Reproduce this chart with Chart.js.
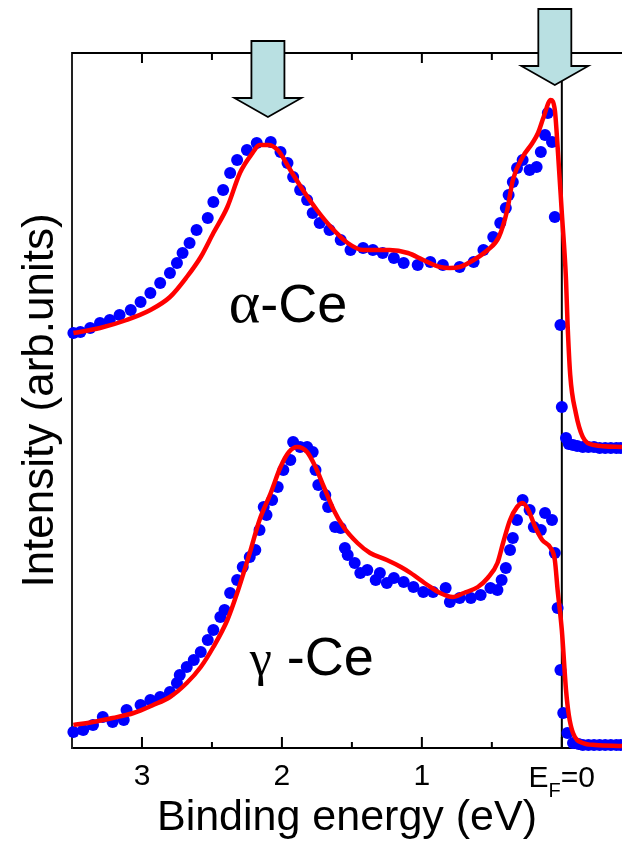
<!DOCTYPE html>
<html>
<head>
<meta charset="utf-8">
<script src="https://cdn.jsdelivr.net/npm/chart.js@4.4.1/dist/chart.umd.min.js"></script>
<style>
  html, body { margin: 0; padding: 0; background: #fff; }
</style>
</head>
<body>
<canvas id="myChart" width="622" height="848"></canvas>
<script>
// binding energy (eV) and intensity (arb. units)

// alpha-Ce, measured points
const alphaDotsE = [3.49, 3.44, 3.37, 3.30, 3.23, 3.16, 3.08, 3.01, 2.94, 2.87, 2.80, 2.75, 2.71, 2.66, 2.61, 2.53, 2.49, 2.42, 2.37, 2.32, 2.25, 2.18, 2.08, 2.01, 1.96, 1.92, 1.87, 1.82, 1.78, 1.73, 1.66, 1.58, 1.51, 1.42, 1.35, 1.28, 1.20, 1.13, 1.03, 0.94, 0.85, 0.73, 0.63, 0.56, 0.49, 0.44, 0.40, 0.38, 0.35, 0.32, 0.28, 0.23, 0.18, 0.15, 0.12, 0.10, 0.07, 0.05, 0.01, 0.00, -0.03, -0.05, -0.08, -0.11, -0.15, -0.19, -0.23, -0.27, -0.31, -0.35, -0.39, -0.42];
const alphaDotsI = [415, 416, 420, 425, 428, 433, 438, 446, 455, 465, 475, 485, 495, 505, 518, 530, 546, 558, 575, 588, 598, 605, 606, 596, 585, 571, 558, 548, 535, 525, 518, 508, 498, 500, 498, 495, 490, 485, 483, 486, 483, 481, 486, 498, 511, 525, 540, 553, 566, 580, 588, 578, 581, 596, 613, 635, 606, 531, 423, 341, 310, 304, 303, 302, 301, 301, 301, 300, 300, 300, 300, 300];

// alpha-Ce, calculated spectrum
const alphaFitE = [3.49, 3.30, 3.11, 2.94, 2.80, 2.68, 2.58, 2.49, 2.39, 2.30, 2.21, 2.16, 2.10, 2.03, 1.94, 1.85, 1.75, 1.65, 1.53, 1.42, 1.23, 1.10, 0.99, 0.87, 0.80, 0.73, 0.63, 0.53, 0.45, 0.39, 0.35, 0.28, 0.21, 0.17, 0.13, 0.08, 0.05, 0.03, 0.00, -0.03, -0.04, -0.06, -0.10, -0.15, -0.23, -0.43];
const alphaFitI = [415, 420, 428, 438, 451, 471, 491, 515, 541, 575, 595, 603, 603, 598, 578, 558, 538, 521, 505, 498, 498, 495, 488, 481, 480, 481, 488, 498, 511, 538, 568, 591, 605, 615, 631, 648, 638, 601, 535, 468, 428, 373, 335, 311, 303, 301];

// gamma-Ce, measured points
const gammaDotsE = [3.49, 3.42, 3.35, 3.28, 3.21, 3.13, 3.11, 3.01, 2.94, 2.87, 2.80, 2.75, 2.73, 2.68, 2.63, 2.58, 2.53, 2.49, 2.44, 2.41, 2.37, 2.32, 2.28, 2.23, 2.19, 2.16, 2.13, 2.11, 2.07, 2.03, 1.99, 1.94, 1.92, 1.87, 1.82, 1.78, 1.76, 1.74, 1.69, 1.67, 1.62, 1.58, 1.55, 1.53, 1.48, 1.44, 1.39, 1.33, 1.30, 1.25, 1.20, 1.13, 1.06, 0.99, 0.92, 0.83, 0.80, 0.73, 0.65, 0.58, 0.51, 0.46, 0.43, 0.40, 0.37, 0.35, 0.32, 0.28, 0.23, 0.20, 0.15, 0.12, 0.07, 0.05, 0.03, 0.01, -0.01, -0.04, -0.08, -0.12, -0.15, -0.19, -0.23, -0.27, -0.31, -0.35, -0.39, -0.42];
const gammaDotsI = [16, 18, 23, 31, 26, 28, 38, 43, 48, 51, 56, 65, 73, 81, 88, 96, 108, 118, 131, 138, 155, 168, 181, 191, 198, 218, 241, 233, 248, 261, 278, 288, 306, 301, 301, 296, 278, 263, 253, 241, 221, 220, 200, 193, 185, 175, 178, 168, 175, 165, 170, 166, 161, 156, 156, 160, 146, 150, 150, 153, 160, 158, 168, 180, 198, 210, 228, 248, 238, 221, 218, 235, 228, 195, 140, 78, 35, 15, 5, 4, 3, 3, 3, 3, 3, 3, 3, 3];

// gamma-Ce, calculated spectrum
const gammaFitE = [3.49, 3.35, 3.21, 3.06, 2.92, 2.80, 2.68, 2.58, 2.49, 2.39, 2.32, 2.23, 2.16, 2.08, 2.01, 1.95, 1.89, 1.82, 1.76, 1.70, 1.63, 1.56, 1.46, 1.37, 1.25, 1.15, 1.08, 0.96, 0.87, 0.78, 0.70, 0.60, 0.53, 0.46, 0.42, 0.37, 0.32, 0.28, 0.24, 0.19, 0.14, 0.08, 0.05, 0.03, 0.00, -0.03, -0.05, -0.08, -0.15, -0.24, -0.43];
const gammaFitI = [23, 26, 30, 35, 43, 51, 65, 81, 101, 128, 155, 195, 228, 255, 281, 296, 301, 296, 281, 261, 238, 221, 205, 195, 188, 181, 175, 163, 155, 151, 155, 161, 170, 185, 205, 228, 241, 245, 238, 221, 208, 200, 188, 158, 118, 58, 33, 15, 5, 3, 2];

const majorTicks = [0, 1, 2, 3];
const minorTicks = [0.5, 1.5, 2.5];
const fermiLevel = 0;
const arrowEnergies = [2.10, 0.05];
const phaseLabels = [
  { greek: 'α', greekSize: 60, rest: '-Ce', e: 2.38, i: 426 },
  { greek: 'γ', greekSize: 50, rest: ' -Ce', e: 2.23, i: 73 }
];

const FONT = 'Liberation Sans';

function toPoints(xs, ys) {
  return xs.map((v, k) => ({ x: v, y: ys[k] }));
}

function drawArrow(ctx, cx, tipY) {
  const shaftHalf = 16.5, headHalf = 33.5, headH = 19, shaftH = 57;
  ctx.beginPath();
  ctx.moveTo(cx - shaftHalf, tipY - headH - shaftH);
  ctx.lineTo(cx + shaftHalf, tipY - headH - shaftH);
  ctx.lineTo(cx + shaftHalf, tipY - headH);
  ctx.lineTo(cx + headHalf, tipY - headH);
  ctx.lineTo(cx, tipY);
  ctx.lineTo(cx - headHalf, tipY - headH);
  ctx.lineTo(cx - shaftHalf, tipY - headH);
  ctx.closePath();
  ctx.fillStyle = '#b9e0e2';
  ctx.fill();
  ctx.strokeStyle = '#000';
  ctx.lineWidth = 1.8;
  ctx.stroke();
}

const decorPlugin = {
  id: 'decor',
  beforeDatasetsDraw(chart) {
    const { ctx, chartArea } = chart;
    const xf = chart.scales.x.getPixelForValue(fermiLevel);
    ctx.save();
    ctx.strokeStyle = '#000';
    ctx.lineWidth = 2;
    ctx.beginPath();
    ctx.moveTo(xf, chartArea.top);
    ctx.lineTo(xf, chartArea.bottom);
    ctx.stroke();
    ctx.restore();
  },
  afterDatasetsDraw(chart) {
    const { ctx, chartArea } = chart;
    const x = chart.scales.x;
    const y = chart.scales.y;
    ctx.save();

    // top frame line
    ctx.strokeStyle = '#000';
    ctx.lineWidth = 2;
    ctx.beginPath();
    ctx.moveTo(chartArea.left, chartArea.top);
    ctx.lineTo(chartArea.right, chartArea.top);
    ctx.stroke();

    // inward tick marks, bottom and top
    majorTicks.concat(minorTicks).forEach(function(v) {
      const px = x.getPixelForValue(v);
      const major = majorTicks.indexOf(v) >= 0;
      ctx.beginPath();
      ctx.moveTo(px, chartArea.bottom);
      ctx.lineTo(px, chartArea.bottom - (major ? 11 : 6));
      ctx.moveTo(px, chartArea.top);
      ctx.lineTo(px, chartArea.top + (major ? 10 : 7));
      ctx.stroke();
    });

    // arrows
    drawArrow(ctx, x.getPixelForValue(arrowEnergies[0]), chartArea.top + 64);
    drawArrow(ctx, x.getPixelForValue(arrowEnergies[1]), chartArea.top + 32);

    // phase labels
    ctx.fillStyle = '#000';
    ctx.textBaseline = 'alphabetic';
    ctx.textAlign = 'left';
    phaseLabels.forEach(function(l) {
      const px = x.getPixelForValue(l.e);
      const py = y.getPixelForValue(l.i);
      ctx.font = l.greekSize + 'px "Liberation Serif"';
      ctx.fillText(l.greek, px, py);
      const w = ctx.measureText(l.greek).width;
      ctx.font = '54px "' + FONT + '"';
      ctx.fillText(l.rest, px + w, py);
    });

    // E_F=0 tick label
    const xf = x.getPixelForValue(fermiLevel);
    const base = chartArea.bottom + 39;
    ctx.font = '30px "' + FONT + '"';
    const wE = ctx.measureText('E').width;
    const wEq = ctx.measureText('=0').width;
    ctx.font = '20px "' + FONT + '"';
    const wF = ctx.measureText('F').width;
    const sx = xf - (wE + wF + wEq) / 2;
    ctx.font = '30px "' + FONT + '"';
    ctx.fillText('E', sx, base);
    ctx.font = '20px "' + FONT + '"';
    ctx.fillText('F', sx + wE, base + 10);
    ctx.font = '30px "' + FONT + '"';
    ctx.fillText('=0', sx + wE + wF, base);

    ctx.restore();
  }
};

const dotStyle = { pointRadius: 6, pointBackgroundColor: '#0000ff', pointBorderWidth: 0, showLine: false, clip: false, order: 1 };
const fitStyle = { borderColor: '#ff0000', borderWidth: 4.5, pointRadius: 0, showLine: true, cubicInterpolationMode: 'monotone', clip: false, order: 0 };

const ctx = document.getElementById('myChart').getContext('2d');

// eslint-disable-next-line no-undef
const myChart = new Chart(ctx, {
  type: 'scatter',
  data: {
    datasets: [
      Object.assign({ label: 'alpha fit', data: toPoints(alphaFitE, alphaFitI) }, fitStyle),
      Object.assign({ label: 'gamma fit', data: toPoints(gammaFitE, gammaFitI) }, fitStyle),
      Object.assign({ label: 'alpha exp', data: toPoints(alphaDotsE, alphaDotsI) }, dotStyle),
      Object.assign({ label: 'gamma exp', data: toPoints(gammaDotsE, gammaDotsI) }, dotStyle)
    ]
  },
  options: {
    responsive: false,
    animation: false,
    layout: { autoPadding: false, padding: { left: 14, right: 0, top: 53, bottom: 0 } },
    plugins: { legend: { display: false }, tooltip: { enabled: false } },
    scales: {
      x: {
        type: 'linear',
        min: -0.43,
        max: 3.5,
        reverse: true,
        grid: { display: false, drawTicks: false },
        border: { display: true, color: '#000', width: 2 },
        afterBuildTicks: function(scale) {
          scale.ticks = majorTicks.map(v => ({ value: v }));
        },
        afterFit: function(scale) {
          // plot box must reach the right edge of the figure
          scale.height = 100;
          scale.paddingLeft = 0;
          scale.paddingRight = 0;
        },
        ticks: {
          color: '#000',
          padding: 11,
          maxRotation: 0,
          font: { family: FONT, size: 30 },
          callback: v => (v === fermiLevel ? '' : String(v))
        },
        title: {
          display: true,
          text: 'Binding energy (eV)',
          color: '#000',
          font: { family: FONT, size: 43 },
          padding: { top: 0, bottom: 4 }
        }
      },
      y: {
        min: 0,
        max: 695,
        grid: { display: false, drawTicks: false },
        border: { display: true, color: '#222', width: 2 },
        ticks: { display: false },
        afterFit: function(scale) {
          scale.width = 58;
        },
        title: {
          display: true,
          text: 'Intensity (arb.units)',
          color: '#000',
          font: { family: FONT, size: 44 },
          padding: { top: 0, bottom: 6 }
        }
      }
    }
  },
  plugins: [decorPlugin]
});
</script>
</body>
</html>
